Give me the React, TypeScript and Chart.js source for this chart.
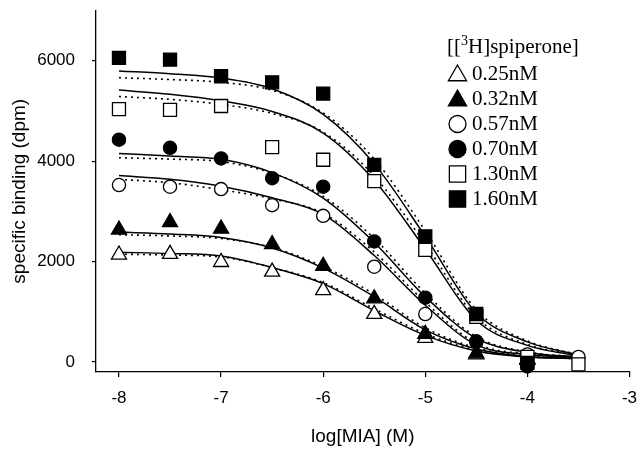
import React, { useEffect, useRef } from 'react';
import { Chart, registerables } from 'chart.js';

Chart.register(...registerables);

// ---------- data ----------
const xValues = [-8, -7.5, -7, -6.5, -6, -5.5, -5, -4.5, -4, -3.5];
const xTicks = [-8, -7, -6, -5, -4, -3];
const yTicks = [0, 2000, 4000, 6000];
const concLabels = ['0.25nM', '0.32nM', '0.57nM', '0.70nM', '1.30nM', '1.60nM'];

// measured points
const pts025 = [2136, 2149, 1988, 1795, 1427, 955, 478, 150, 60, null];
const pts032 = [2633, 2782, 2652, 2343, 1911, 1264, 555, 168, 40, null];
const pts057 = [3524, 3491, 3443, 3123, 2910, 1897, 955, 400, 150, 100];
const pts070 = [4428, 4266, 4053, 3660, 3491, 2400, 1280, 410, -90, null];
const pts130 = [5034, 5021, 5098, 4279, 4027, 3601, 2232, 900, 100, -50];
const pts160 = [6055, 6020, 5690, 5570, 5345, 3925, 2503, 955, -20, null];

// fitted curves (solid)
const solid025 = [2185, 2160, 2110, 1880, 1560, 1020, 530, 220, 100, 65];
const solid032 = [2586, 2550, 2480, 2270, 1870, 1300, 640, 260, 110, 70];
const solid057 = [3713, 3640, 3500, 3270, 2940, 2120, 1130, 340, 150, 90];
const solid070 = [4152, 4100, 4036, 3770, 3262, 2380, 1300, 470, 190, 100];
const solid130 = [5415, 5330, 5200, 4990, 4560, 3620, 2250, 830, 330, 120];
const solid160 = [5796, 5740, 5655, 5440, 4930, 3945, 2500, 975, 400, 140];

// fitted curves (dotted)
const dotted025 = [2147, 2130, 2090, 1880, 1580, 1060, 565, 235, 105, 65];
const dotted032 = [2534, 2510, 2460, 2280, 1900, 1350, 680, 280, 115, 70];
const dotted057 = [3636, 3570, 3430, 3250, 2960, 2190, 1190, 370, 160, 90];
const dotted070 = [4067, 4040, 3990, 3760, 3300, 2460, 1370, 500, 200, 100];
const dotted130 = [5286, 5230, 5130, 4950, 4580, 3700, 2350, 890, 350, 125];
const dotted160 = [5661, 5625, 5570, 5410, 4960, 4040, 2610, 1040, 420, 145];

const pointSeries = [pts025, pts032, pts057, pts070, pts130, pts160];
const solidSeries = [solid025, solid032, solid057, solid070, solid130, solid160];
const dottedSeries = [dotted025, dotted032, dotted057, dotted070, dotted130, dotted160];

// ---------- styles ----------
const markerStyles = [
  { style: 'triangle', filled: false, r: 8.7, lr: 10.5 },
  { style: 'triangle', filled: true, r: 8.7, lr: 10.5 },
  { style: 'circle', filled: false, r: 6.6, lr: 8.5 },
  { style: 'circle', filled: true, r: 6.6, lr: 8.5 },
  { style: 'rect', filled: false, r: 9.2, lr: 11.5 },
  { style: 'rect', filled: true, r: 9.2, lr: 11.5 },
];

const SANS = '"Liberation Sans", Arial, sans-serif';
const SERIF = '"Liberation Serif", "Times New Roman", serif';

function drawMarker(ctx: CanvasRenderingContext2D, style: string, filled: boolean, r: number, x: number, y: number) {
  ctx.save();
  ctx.beginPath();
  if (style === 'circle') {
    ctx.arc(x, y, r, 0, Math.PI * 2);
  } else if (style === 'triangle') {
    for (let k = 0; k < 3; k++) {
      const a = (k * 2 * Math.PI) / 3;
      const px = x + Math.sin(a) * r;
      const py = y - Math.cos(a) * r;
      if (k === 0) ctx.moveTo(px, py); else ctx.lineTo(px, py);
    }
    ctx.closePath();
  } else {
    const s = Math.SQRT1_2 * r;
    ctx.rect(x - s, y - s, 2 * s, 2 * s);
  }
  ctx.fillStyle = filled ? '#000' : '#fff';
  ctx.strokeStyle = '#000';
  ctx.lineWidth = 1.3;
  ctx.fill();
  ctx.stroke();
  ctx.restore();
}

const legendPlugin = {
  id: 'spiperoneLegend',
  afterDraw(chart: any) {
    const ctx: CanvasRenderingContext2D = chart.ctx;
    ctx.save();
    ctx.fillStyle = '#000';
    ctx.textBaseline = 'middle';
    ctx.textAlign = 'left';
    const titleY = 47;
    let tx = 447;
    ctx.font = `21px ${SERIF}`;
    ctx.fillText('[[', tx, titleY);
    tx += ctx.measureText('[[').width;
    ctx.font = `14px ${SERIF}`;
    ctx.fillText('3', tx, titleY - 6);
    tx += ctx.measureText('3').width;
    ctx.font = `21px ${SERIF}`;
    ctx.fillText('H]spiperone]', tx, titleY);
    markerStyles.forEach((m, i) => {
      const y = 74 + i * 25;
      drawMarker(ctx, m.style, m.filled, m.lr, 457.5, y + (m.style === 'triangle' ? 1.5 : 0));
      ctx.fillStyle = '#000';
      ctx.font = `21px ${SERIF}`;
      ctx.fillText(concLabels[i], 472, y);
    });
    ctx.restore();
  },
};

export default function App() {
  const canvasRef = useRef<HTMLCanvasElement | null>(null);

  useEffect(() => {
    if (!canvasRef.current) return;
    const datasets: any[] = [];
    solidSeries.forEach((s, i) => {
      datasets.push({
        label: 'fit ' + concLabels[i],
        data: xValues.map((x, j) => ({ x, y: s[j] })),
        borderColor: '#000',
        borderWidth: 1.5,
        pointRadius: 0,
        fill: false,
        cubicInterpolationMode: 'monotone',
        order: 10,
      });
    });
    dottedSeries.forEach((s, i) => {
      datasets.push({
        label: 'fit2 ' + concLabels[i],
        data: xValues.map((x, j) => ({ x, y: s[j] })),
        borderColor: '#000',
        borderWidth: 1.6,
        borderDash: [2, 4],
        pointRadius: 0,
        fill: false,
        cubicInterpolationMode: 'monotone',
        order: 11,
      });
    });
    pointSeries.forEach((s, i) => {
      const m = markerStyles[i];
      datasets.push({
        label: concLabels[i],
        data: xValues.map((x, j) => ({ x, y: s[j] })),
        showLine: false,
        pointStyle: m.style,
        pointRadius: m.r,
        pointBackgroundColor: m.filled ? '#000' : '#fff',
        pointBorderColor: '#000',
        pointBorderWidth: 1.3,
        clip: false,
        order: 6 - i,
      });
    });

    const chart = new Chart(canvasRef.current, {
      type: 'line',
      data: { datasets },
      plugins: [legendPlugin],
      options: {
        animation: false,
        responsive: false,
        devicePixelRatio: 1,
        layout: { padding: { top: 0, right: 9, bottom: 0, left: 0 } },
        plugins: { legend: { display: false }, tooltip: { enabled: false } },
        scales: {
          x: {
            type: 'linear',
            min: -8.225,
            max: -3,
            afterBuildTicks: (s: any) => { s.ticks = xTicks.map((v) => ({ value: v })); },
            afterFit: (s: any) => { s.height = 78; s.paddingLeft = 0; s.paddingRight = 0; },
            grid: { display: true, drawOnChartArea: false, drawTicks: true, tickLength: 5, color: '#000', lineWidth: 1.2 },
            border: { display: true, color: '#000', width: 1.3 },
            ticks: { color: '#000', font: { family: SANS, size: 17 }, padding: 11, maxRotation: 0, callback: (v: any) => String(v) },
            title: { display: true, text: 'log[MIA] (M)', color: '#000', font: { family: SANS, size: 19 }, padding: { top: 0, bottom: 2 } },
          },
          y: {
            type: 'linear',
            min: -200,
            max: 7000,
            afterBuildTicks: (s: any) => { s.ticks = yTicks.map((v) => ({ value: v })); },
            afterFit: (s: any) => { s.width = 96; s.paddingTop = 0; s.paddingBottom = 0; },
            grid: { display: true, drawOnChartArea: false, drawTicks: true, tickLength: 4, color: '#000', lineWidth: 1.2 },
            border: { display: true, color: '#000', width: 1.3 },
            ticks: { color: '#000', font: { family: SANS, size: 17 }, padding: 17, callback: (v: any) => String(v) },
            title: { display: true, text: 'specific binding (dpm)', color: '#000', font: { family: SANS, size: 19 }, padding: { top: 8, bottom: 0 } },
          },
        },
      },
    } as any);
    return () => chart.destroy();
  }, []);

  return (
    <div style={{ position: 'fixed', left: 0, top: 0, width: 640, height: 450, background: '#fff' }}>
      <canvas ref={canvasRef} width={640} height={450} style={{ display: 'block', width: 640, height: 450 }} />
    </div>
  );
}
